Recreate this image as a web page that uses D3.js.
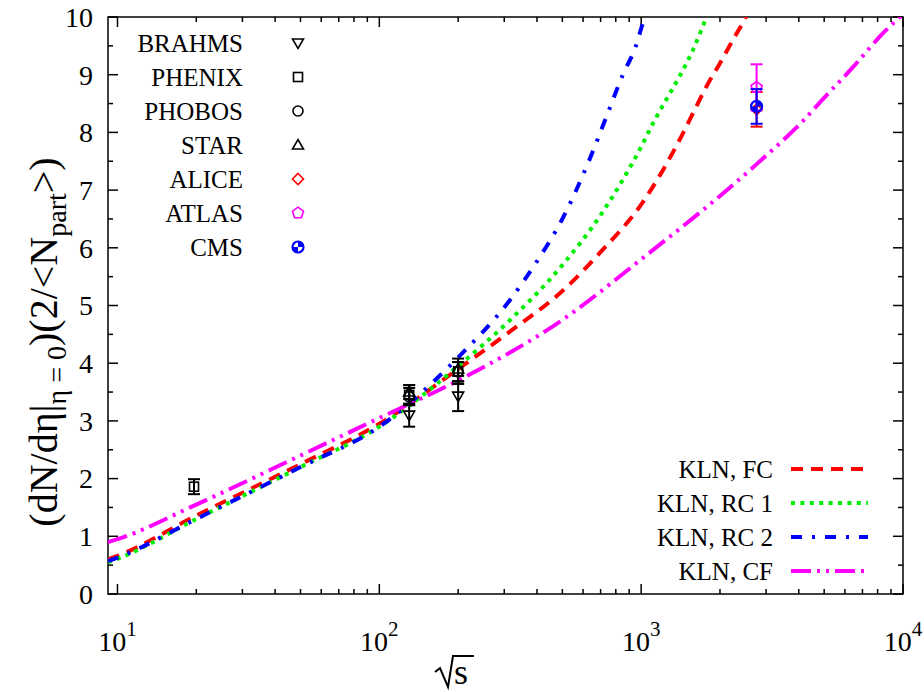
<!DOCTYPE html>
<html>
<head>
<meta charset="utf-8">
<script src="https://cdn.jsdelivr.net/npm/d3@7"></script>
<style>
  body { margin: 0; background: #fff; }
  svg text { font-family: "Liberation Serif", "DejaVu Serif", "Times New Roman", serif; fill: #000; }
</style>
</head>
<body>
<script>
// experimental points: sqrt(s), value, error
const brahms = [[130, 3.1, 0.2], [200, 3.43, 0.26]];
const phenix = [[19.6, 1.86, 0.13], [130, 3.45, 0.17], [200, 3.86, 0.22]];
const phobos = [[130, 3.42, 0.15], [200, 3.85, 0.17]];
const star = [[130, 3.5, 0.12], [200, 3.9, 0.12]];
const alice = [[2760, 8.4, 0.3]];
const atlas = [[2760, 8.78, 0.4]];
const cms = [[2760, 8.45, 0.3]];

// KLN model curves: sqrt(s), value
const klnFC = [[9.2, 0.6], [10, 0.66], [20, 1.36], [50, 2.25], [100, 2.95], [200, 3.9], [316, 4.55],
  [500, 5.25], [708, 5.95], [1000, 6.75], [1413, 7.9], [1585, 8.35], [1778, 8.8], [2000, 9.2],
  [2239, 9.6], [2512, 10.0], [2700, 10.3]];
const klnRC1 = [[9.2, 0.55], [10, 0.61], [20, 1.3], [50, 2.2], [100, 2.9], [200, 3.95], [316, 4.75],
  [500, 5.7], [708, 6.6], [1000, 7.75], [1122, 8.2], [1259, 8.6], [1413, 9.0], [1585, 9.45],
  [1778, 10.0], [1900, 10.3]];
const klnRC2 = [[9.2, 0.57], [10, 0.63], [20, 1.3], [50, 2.2], [100, 2.9], [200, 4.1], [316, 5.1],
  [398, 5.75], [500, 6.5], [631, 7.5], [748, 8.35], [851, 9.0], [955, 9.5], [1000, 9.8], [1047, 10.1]];
const klnCF = [[9.2, 0.9], [10, 0.95], [20, 1.55], [50, 2.4], [100, 3.05], [200, 3.7], [500, 4.75],
  [1000, 5.8], [2760, 7.45], [4150, 8.2], [4905, 8.56], [6440, 9.13], [8390, 9.72], [10000, 10.05]];

const xTicks = [10, 100, 1000, 10000];
const xMinor = [20, 30, 40, 50, 60, 70, 80, 90, 200, 300, 400, 500, 600, 700, 800, 900,
  2000, 3000, 4000, 5000, 6000, 7000, 8000, 9000];
const yTicks = [0, 1, 2, 3, 4, 5, 6, 7, 8, 9, 10];
const yMinor = [0.5, 1.5, 2.5, 3.5, 4.5, 5.5, 6.5, 7.5, 8.5, 9.5];

const width = 924, height = 692;
const x = d3.scaleLog().domain([9.2, 10000]).range([108, 903]);
const y = d3.scaleLinear().domain([0, 10]).range([594, 17]);
const [x0, x1] = x.range();
const [y0, y1] = y.range();

const svg = d3.select('body').append('svg')
  .attr('width', width)
  .attr('height', height);

svg.append('defs').append('clipPath').attr('id', 'plot')
  .append('rect')
  .attr('x', x0).attr('y', y1)
  .attr('width', x1 - x0)
  .attr('height', y0 - y1);

// frame with inside ticks on all four sides
const frame = svg.append('g').attr('stroke', '#000').attr('stroke-width', 1.5);
frame.append('rect')
  .attr('x', x0).attr('y', y1)
  .attr('width', x1 - x0)
  .attr('height', y0 - y1)
  .attr('fill', 'none');

function xTick(v, len) {
  frame.append('line').attr('x1', x(v)).attr('x2', x(v)).attr('y1', y0).attr('y2', y0 - len);
  frame.append('line').attr('x1', x(v)).attr('x2', x(v)).attr('y1', y1).attr('y2', y1 + len);
}
function yTick(v, len) {
  frame.append('line').attr('x1', x0).attr('x2', x0 + len).attr('y1', y(v)).attr('y2', y(v));
  frame.append('line').attr('x1', x1).attr('x2', x1 - len).attr('y1', y(v)).attr('y2', y(v));
}
xMinor.forEach(v => xTick(v, 5));
xTicks.forEach(v => xTick(v, 10));
yMinor.forEach(v => yTick(v, 5));
yTicks.forEach(v => yTick(v, 10));

// tick labels
svg.append('g').selectAll('text')
  .data(yTicks)
  .join('text')
    .attr('x', 93)
    .attr('y', d => y(d))
    .attr('dy', '0.35em')
    .attr('text-anchor', 'end')
    .attr('font-size', 28)
    .text(d => d);

const xl = svg.append('g').selectAll('text')
  .data(xTicks)
  .join('text')
    .attr('x', d => x(d))
    .attr('y', 651)
    .attr('text-anchor', 'middle')
    .attr('font-size', 28);
xl.append('tspan').text('10');
xl.append('tspan').attr('dy', -15).attr('font-size', 21).text(d => Math.round(Math.log10(d)));

// axis titles
const yt = svg.append('text')
  .attr('transform', 'translate(57,342) rotate(-90)')
  .attr('text-anchor', 'middle')
  .attr('font-size', 40);
yt.append('tspan').text('(dN/dη|');
yt.append('tspan').attr('dy', 9).attr('font-size', 28).text('η = 0');
yt.append('tspan').attr('dy', -9).text(')(2/<N');
yt.append('tspan').attr('dy', 9).attr('font-size', 28).text('part');
yt.append('tspan').attr('dy', -9).text('>)');

const st = svg.append('g').attr('transform', 'translate(456,0)');
st.append('text')
  .attr('x', 5).attr('y', 684)
  .attr('text-anchor', 'middle')
  .attr('font-size', 36)
  .text('s');
st.append('path')
  .attr('d', 'M-21,672 L-16,668 L-8,687 L-3,656 L18,656')
  .attr('fill', 'none').attr('stroke', '#000').attr('stroke-width', 2);

// curves
const line = d3.line()
  .x(d => x(d[0]))
  .y(d => y(d[1]))
  .curve(d3.curveMonotoneX);

const curves = [
  { name: 'KLN, FC', data: klnFC, color: '#ff0000', dash: '12,8' },
  { name: 'KLN, RC 1', data: klnRC1, color: '#00ee00', dash: '4,5.4' },
  { name: 'KLN, RC 2', data: klnRC2, color: '#0000ff', dash: '11,10,3,10' },
  { name: 'KLN, CF', data: klnCF, color: '#ff00ff', dash: '20,6,3,6,3,6' }
];

svg.append('g').attr('clip-path', 'url(#plot)')
  .selectAll('path')
  .data(curves)
  .join('path')
    .attr('d', d => line(d.data))
    .attr('fill', 'none')
    .attr('stroke', d => d.color)
    .attr('stroke-width', 4)
    .attr('stroke-dasharray', d => d.dash);

// point symbols
function symbol(g, kind, color) {
  g.attr('fill', 'none').attr('stroke', color).attr('stroke-width', 1.6);
  if (kind === 'down') g.append('path').attr('d', 'M-5.5,-4 L5.5,-4 L0,5.5 Z');
  if (kind === 'up') g.append('path').attr('d', 'M-5.5,4 L5.5,4 L0,-5.5 Z');
  if (kind === 'square') g.append('rect').attr('x', -4.5).attr('y', -4.5).attr('width', 9).attr('height', 9);
  if (kind === 'circle') g.append('circle').attr('r', 5);
  if (kind === 'diamond') g.append('path').attr('d', 'M0,-5.5 L5.5,0 L0,5.5 L-5.5,0 Z');
  if (kind === 'pentagon') {
    const p = d3.range(5).map(i => {
      const a = -Math.PI / 2 + i * 2 * Math.PI / 5;
      return [5.8 * Math.cos(a), 5.8 * Math.sin(a)];
    });
    g.append('path').attr('d', 'M' + p.join('L') + 'Z');
  }
  if (kind === 'cms') {
    g.append('circle').attr('r', 5.5).attr('stroke-width', 2.2);
    g.append('path').attr('d', 'M-5.5,0 A5.5,5.5 0 0,0 0,5.5 L0,0 Z').attr('fill', color).attr('stroke', 'none');
    g.append('path').attr('d', 'M5.5,0 A5.5,5.5 0 0,0 0,-5.5 L0,0 Z').attr('fill', color).attr('stroke', 'none');
  }
}

const sets = [
  { name: 'BRAHMS', data: brahms, kind: 'down', color: '#000' },
  { name: 'PHENIX', data: phenix, kind: 'square', color: '#000' },
  { name: 'PHOBOS', data: phobos, kind: 'circle', color: '#000' },
  { name: 'STAR', data: star, kind: 'up', color: '#000' },
  { name: 'ALICE', data: alice, kind: 'diamond', color: '#ff0000' },
  { name: 'ATLAS', data: atlas, kind: 'pentagon', color: '#ff00ff' },
  { name: 'CMS', data: cms, kind: 'cms', color: '#0000ff' }
];

const pts = svg.append('g');
sets.forEach(s => {
  s.data.forEach(d => {
    const g = pts.append('g').attr('stroke', s.color).attr('stroke-width', 2);
    const cx = x(d[0]);
    g.append('line').attr('x1', cx).attr('x2', cx).attr('y1', y(d[1] - d[2])).attr('y2', y(d[1] + d[2]));
    g.append('line').attr('x1', cx - 6).attr('x2', cx + 6).attr('y1', y(d[1] - d[2])).attr('y2', y(d[1] - d[2]));
    g.append('line').attr('x1', cx - 6).attr('x2', cx + 6).attr('y1', y(d[1] + d[2])).attr('y2', y(d[1] + d[2]));
    symbol(pts.append('g').attr('transform', `translate(${cx},${y(d[1])})`), s.kind, s.color);
  });
});

// legend for the data sets
const leg1 = svg.append('g').selectAll('g')
  .data(sets)
  .join('g')
    .attr('transform', (d, i) => `translate(0,${43 + i * 34})`);
leg1.append('text')
  .attr('x', 243).attr('dy', '0.35em')
  .attr('text-anchor', 'end')
  .attr('font-size', 25)
  .text(d => d.name);
leg1.each(function(d) {
  symbol(d3.select(this).append('g').attr('transform', 'translate(298,0)'), d.kind, d.color);
});

// legend for the curves
const leg2 = svg.append('g').selectAll('g')
  .data(curves)
  .join('g')
    .attr('transform', (d, i) => `translate(0,${469 + i * 34})`);
leg2.append('text')
  .attr('x', 773).attr('dy', '0.35em')
  .attr('text-anchor', 'end')
  .attr('font-size', 25)
  .text(d => d.name);
leg2.append('line')
  .attr('x1', 791).attr('x2', 868)
  .attr('stroke', d => d.color)
  .attr('stroke-width', 4)
  .attr('stroke-dasharray', d => d.dash);
</script>
</body>
</html>
